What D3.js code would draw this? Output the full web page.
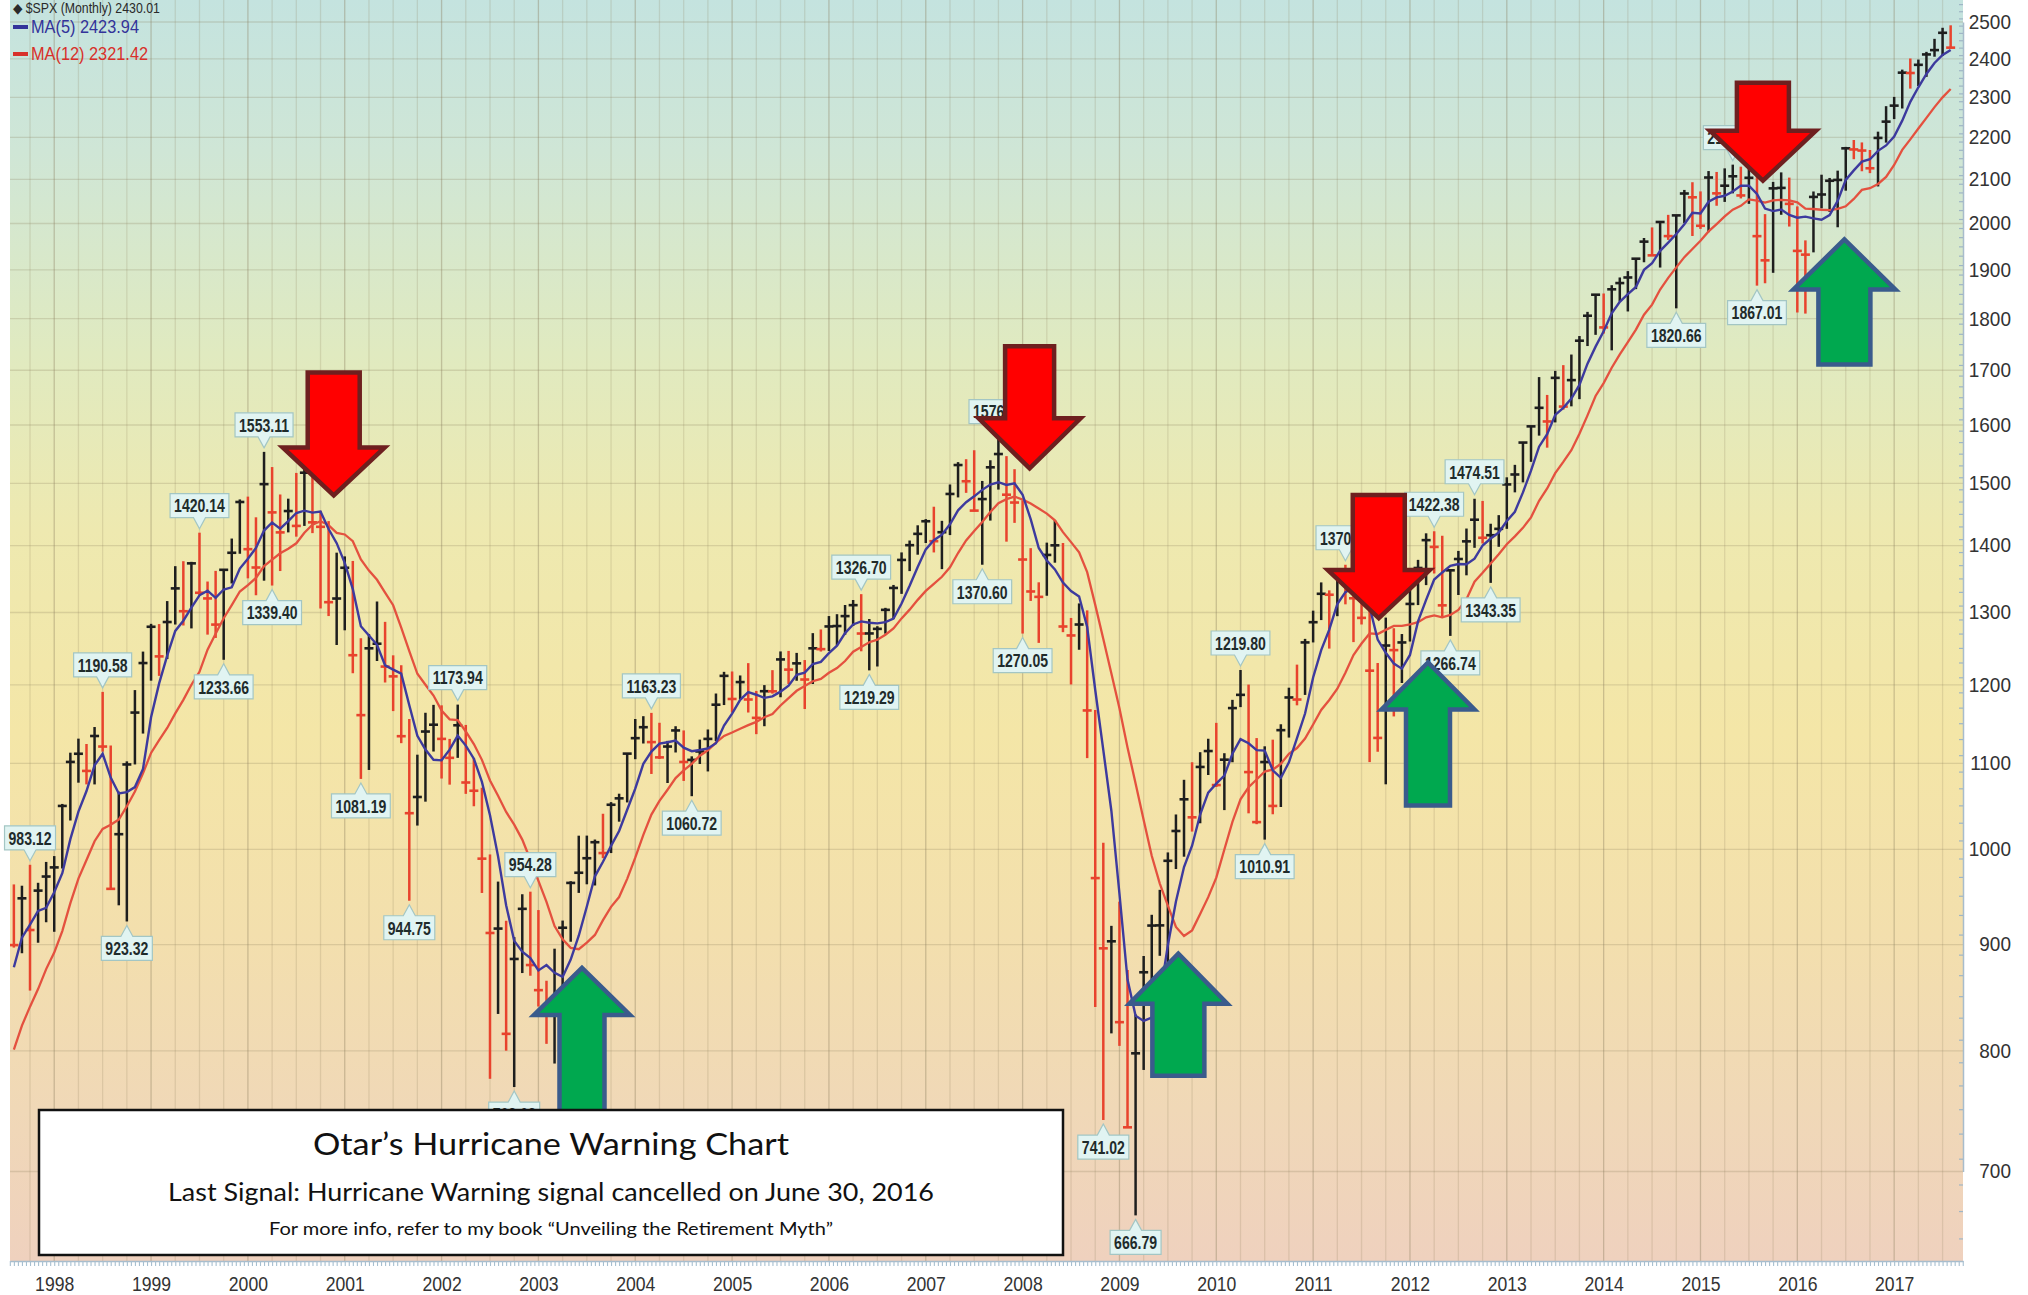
<!DOCTYPE html>
<html>
<head>
<meta charset="utf-8">
<script src="https://cdn.jsdelivr.net/npm/d3@7"></script>
<style>
  html, body { margin: 0; padding: 0; background: #ffffff; }
  svg { display: block; }
</style>
</head>
<body>
<svg id="chart" width="2028" height="1295"></svg>
<script>
// ---------------------------------------------------------------
// $SPX monthly bars, Aug 1997 – Aug 2017, with MA(5) and MA(12)
// ---------------------------------------------------------------
const firstMonth = "1997-08";

// Monthly closes Sep 1996 – Jul 1997 (only used to start the moving averages)
const priorCloses = [687.33, 705.27, 757.02, 740.74, 786.16, 790.82, 757.12, 801.34, 848.28, 885.14, 954.31];

const highs = [
  961.99, 960.60, 983.12, 963.72, 986.25,
  992.65, 1051.66, 1113.08, 1130.52, 1123.85, 1145.15, 1190.58, 1121.96, 1066.09, 1102.45, 1192.97, 1244.93,
  1283.79, 1283.47, 1316.55, 1368.46, 1375.98, 1375.03, 1420.14, 1345.36, 1361.33, 1363.22, 1410.95, 1473.41,
  1478.00, 1444.55, 1553.11, 1527.19, 1481.51, 1474.64, 1517.32, 1525.21, 1530.09, 1454.82, 1438.46, 1389.06,
  1383.37, 1376.38, 1263.47, 1269.30, 1315.93, 1286.62, 1239.78, 1226.27, 1155.40, 1110.61, 1163.38, 1173.62,
  1173.00, 1130.20, 1173.94, 1147.84, 1106.59, 1070.74, 994.46, 965.00, 924.02, 907.44, 951.57, 954.28,
  935.05, 864.64, 895.90, 924.24, 965.38, 1015.33, 1015.41, 1011.01, 1040.29, 1053.79, 1063.65, 1112.56,
  1155.38, 1158.98, 1163.23, 1150.57, 1127.74, 1146.18, 1140.84, 1108.60, 1129.30, 1142.05, 1188.46, 1217.33,
  1217.80, 1212.44, 1229.11, 1191.88, 1199.56, 1219.59, 1245.15, 1245.86, 1243.13, 1233.34, 1270.64, 1275.80,
  1294.90, 1297.57, 1310.88, 1318.16, 1326.70, 1290.68, 1280.42, 1306.74, 1340.28, 1389.45, 1407.89, 1431.81,
  1441.61, 1461.57, 1438.89, 1498.02, 1535.56, 1540.56, 1555.90, 1503.89, 1538.74, 1576.09, 1545.79, 1523.57,
  1471.77, 1396.02, 1344.19, 1404.57, 1440.24, 1404.05, 1292.17, 1313.15, 1303.04, 1167.03, 1007.51, 918.85,
  943.85, 875.01, 832.98, 888.70, 930.17, 956.23, 996.68, 1039.47, 1080.15, 1101.36, 1113.69, 1130.38,
  1150.45, 1112.42, 1180.16, 1219.80, 1200.26, 1131.23, 1120.95, 1129.24, 1148.67, 1196.14, 1227.08, 1262.60,
  1302.67, 1344.07, 1332.28, 1364.56, 1370.58, 1345.20, 1356.48, 1307.38, 1229.29, 1292.66, 1277.55, 1269.37,
  1333.47, 1378.04, 1419.15, 1422.38, 1415.32, 1363.46, 1391.74, 1426.68, 1474.51, 1470.96, 1434.27, 1448.00,
  1509.94, 1530.94, 1570.28, 1597.57, 1687.18, 1654.19, 1698.78, 1709.67, 1729.86, 1765.67, 1813.55, 1849.44,
  1850.84, 1867.92, 1883.97, 1897.28, 1924.03, 1968.17, 1991.39, 2005.04, 2019.26, 2018.19, 2075.76, 2093.55,
  2072.36, 2119.59, 2117.52, 2125.92, 2134.72, 2129.87, 2132.82, 2112.66, 2020.86, 2094.32, 2116.48, 2104.27,
  2038.20, 1962.96, 2072.21, 2111.05, 2103.48, 2120.55, 2177.09, 2193.81, 2187.87, 2169.60, 2214.10, 2277.53,
  2300.99, 2371.54, 2400.98, 2398.16, 2418.71, 2453.82, 2484.04, 2490.87
];

const lows = [
  897.00, 891.40, 855.27, 901.83, 922.51,
  912.83, 979.11, 1032.53, 1076.70, 1074.67, 1074.64, 1114.30, 957.28, 939.98, 923.32, 1098.67, 1136.89,
  1205.46, 1211.89, 1234.77, 1282.80, 1281.41, 1277.30, 1325.00, 1268.52, 1263.90, 1233.66, 1342.47, 1387.38,
  1350.14, 1325.07, 1346.62, 1339.40, 1361.09, 1420.60, 1413.89, 1430.83, 1419.44, 1305.79, 1294.90, 1254.07,
  1274.62, 1215.44, 1081.19, 1091.99, 1232.00, 1203.03, 1165.54, 1124.87, 944.75, 1026.76, 1054.31, 1114.51,
  1081.66, 1074.36, 1106.73, 1063.46, 1048.96, 952.92, 775.68, 833.44, 800.20, 768.63, 872.05, 869.45,
  840.34, 806.29, 788.90, 847.85, 902.83, 953.00, 962.10, 960.84, 990.36, 995.97, 1031.20, 1053.41,
  1105.08, 1124.44, 1087.16, 1105.38, 1076.32, 1113.32, 1078.78, 1060.72, 1099.18, 1090.19, 1127.60, 1173.37,
  1163.75, 1180.95, 1163.69, 1136.15, 1146.18, 1188.30, 1183.55, 1201.07, 1205.35, 1168.20, 1201.07, 1245.00,
  1245.74, 1253.61, 1268.42, 1280.74, 1245.34, 1219.29, 1224.54, 1269.87, 1290.93, 1327.10, 1360.98, 1385.93,
  1403.97, 1389.42, 1363.98, 1416.37, 1476.70, 1484.18, 1454.25, 1370.60, 1439.29, 1489.56, 1406.10, 1435.65,
  1270.05, 1316.75, 1256.98, 1324.35, 1373.72, 1272.00, 1200.44, 1247.45, 1106.39, 839.80, 741.02, 815.69,
  804.47, 734.52, 666.79, 783.32, 866.10, 888.86, 869.32, 978.51, 991.97, 1019.95, 1029.38, 1085.89,
  1071.59, 1044.50, 1101.36, 1170.69, 1040.78, 1028.33, 1010.91, 1039.70, 1048.08, 1131.87, 1173.00, 1186.60,
  1257.62, 1289.14, 1249.05, 1294.70, 1311.80, 1258.07, 1282.86, 1101.54, 1114.22, 1074.77, 1158.66, 1202.37,
  1258.86, 1310.73, 1340.03, 1357.38, 1291.98, 1266.74, 1325.41, 1354.65, 1396.56, 1403.28, 1343.35, 1398.11,
  1426.19, 1485.01, 1501.48, 1536.03, 1581.28, 1560.33, 1604.57, 1627.47, 1633.41, 1646.47, 1746.20, 1767.99,
  1770.45, 1737.92, 1834.44, 1814.36, 1859.79, 1915.98, 1930.67, 1904.78, 1964.04, 1820.66, 2001.01, 1972.56,
  1988.12, 1980.90, 2039.69, 2048.38, 2067.93, 2056.32, 2044.02, 1867.01, 1871.91, 1893.70, 2019.39, 1993.26,
  1812.29, 1810.10, 1937.09, 2033.80, 2025.91, 1991.68, 2074.02, 2147.58, 2119.12, 2114.72, 2083.79, 2187.44,
  2245.13, 2271.65, 2322.25, 2328.95, 2352.72, 2405.70, 2407.70, 2428.00
];

const closes = [
  899.47, 947.28, 914.62, 955.40, 970.43,
  980.28, 1049.34, 1101.75, 1111.75, 1090.82, 1133.84, 1120.67, 957.28, 1017.01, 1098.67, 1163.63, 1229.23,
  1279.64, 1238.33, 1286.37, 1335.18, 1301.84, 1372.71, 1328.72, 1320.41, 1282.71, 1362.93, 1388.91, 1469.25,
  1394.46, 1366.42, 1498.58, 1452.43, 1420.60, 1454.60, 1430.83, 1517.68, 1436.51, 1429.40, 1314.95, 1320.28,
  1366.01, 1239.94, 1160.33, 1249.46, 1255.82, 1224.42, 1211.23, 1133.58, 1040.94, 1059.78, 1139.45, 1148.08,
  1130.20, 1106.73, 1147.39, 1076.92, 1067.14, 989.82, 911.62, 916.07, 815.28, 885.76, 936.31, 879.82,
  855.70, 841.15, 848.18, 916.92, 963.59, 974.50, 990.31, 1008.01, 995.97, 1050.71, 1058.20, 1111.92,
  1131.13, 1144.94, 1126.21, 1107.30, 1120.68, 1140.84, 1101.72, 1104.24, 1114.58, 1130.20, 1173.82, 1211.92,
  1181.27, 1203.60, 1180.59, 1156.85, 1191.50, 1191.33, 1234.18, 1220.33, 1228.81, 1207.01, 1249.48, 1248.29,
  1280.08, 1280.66, 1294.83, 1310.61, 1270.09, 1270.20, 1276.66, 1303.82, 1335.85, 1377.94, 1400.63, 1418.30,
  1438.24, 1406.82, 1420.86, 1482.37, 1530.62, 1503.35, 1455.27, 1473.99, 1526.75, 1549.38, 1481.14, 1468.36,
  1378.55, 1330.63, 1322.70, 1385.59, 1400.38, 1280.00, 1267.38, 1282.83, 1166.36, 968.75, 896.24, 903.25,
  825.88, 735.09, 797.87, 872.81, 919.14, 919.32, 987.48, 1020.62, 1057.08, 1036.19, 1095.63, 1115.10,
  1073.87, 1104.49, 1169.43, 1186.69, 1089.41, 1030.71, 1101.60, 1049.33, 1141.20, 1183.26, 1180.55, 1257.64,
  1286.12, 1327.22, 1325.83, 1363.61, 1345.20, 1320.64, 1292.28, 1218.89, 1131.42, 1253.30, 1246.96, 1257.60,
  1312.41, 1365.68, 1408.47, 1397.91, 1310.33, 1362.16, 1379.32, 1406.58, 1440.67, 1412.16, 1416.18, 1426.19,
  1498.11, 1514.68, 1569.19, 1597.57, 1630.74, 1606.28, 1685.73, 1632.97, 1681.55, 1756.54, 1805.81, 1848.36,
  1782.59, 1859.45, 1872.34, 1883.95, 1923.57, 1960.23, 1930.67, 2003.37, 1972.29, 2018.05, 2067.56, 2058.90,
  1994.99, 2104.50, 2067.89, 2085.51, 2107.39, 2063.11, 2103.84, 1972.18, 1920.03, 2079.36, 2080.41, 2043.94,
  1940.24, 1932.23, 2059.74, 2065.30, 2096.95, 2098.86, 2173.60, 2170.95, 2168.27, 2126.15, 2198.81, 2238.83,
  2278.87, 2363.64, 2362.72, 2384.20, 2411.80, 2423.41, 2470.30, 2430.01
];

// Price axis ticks
const yTicks = [700, 800, 900, 1000, 1100, 1200, 1300, 1400, 1500, 1600, 1700, 1800, 1900, 2000, 2100, 2200, 2300, 2400, 2500];

// Swing highs / lows that carry a value tag
const pivotLabels = [
  { month: "1997-10", side: "high" },
  { month: "1998-07", side: "high" },
  { month: "1998-10", side: "low" },
  { month: "1999-07", side: "high" },
  { month: "1999-10", side: "low" },
  { month: "2000-03", side: "high" },
  { month: "2000-04", side: "low" },
  { month: "2001-03", side: "low" },
  { month: "2001-09", side: "low" },
  { month: "2002-03", side: "high" },
  { month: "2002-10", side: "low" },
  { month: "2002-12", side: "high" },
  { month: "2004-03", side: "high" },
  { month: "2004-08", side: "low" },
  { month: "2006-05", side: "high" },
  { month: "2006-06", side: "low" },
  { month: "2007-08", side: "low" },
  { month: "2007-10", side: "high" },
  { month: "2008-01", side: "low" },
  { month: "2008-11", side: "low" },
  { month: "2009-03", side: "low" },
  { month: "2010-04", side: "high" },
  { month: "2010-07", side: "low" },
  { month: "2011-05", side: "high" },
  { month: "2012-04", side: "high" },
  { month: "2012-06", side: "low" },
  { month: "2012-09", side: "high" },
  { month: "2012-11", side: "low" },
  { month: "2014-10", side: "low" },
  { month: "2015-05", side: "high" },
  { month: "2015-08", side: "low" }
];

// Hurricane warning (sell) and all-clear (buy) signals: arrow tip date and price
const warningSignals = [
  { date: "2000-11-20", value: 1480 },
  { date: "2008-01-27", value: 1525 },
  { date: "2011-09-05", value: 1292 },
  { date: "2015-08-23", value: 2097 }
];
const clearSignals = [
  { date: "2003-06-13", value: 877 },
  { date: "2009-08-10", value: 891 },
  { date: "2012-03-08", value: 1230 },
  { date: "2016-06-26", value: 1965 }
];

const chartTitle = "Otar\u2019s Hurricane Warning Chart";
const signalNote = "Last Signal: Hurricane Warning signal cancelled on June 30, 2016";
const bookNote = "For more info, refer to my book \u201CUnveiling the Retirement Myth\u201D";

// ---------------------------------------------------------------
const W = 2028, H = 1295;
const plot = { left: 10, right: 1963, top: 0, bottom: 1261 };
const svg = d3.select("#chart");
const defs = svg.append("defs");

function monthIdx(ym) {
  const [y0, m0] = firstMonth.split("-").map(Number);
  const [yy, mm] = ym.split("-").map(Number);
  return (yy - y0) * 12 + (mm - m0);
}
function dateIdx(s) {
  const parts = s.split("-").map(Number);
  return monthIdx(parts[0] + "-" + String(parts[1]).padStart(2, "0")) + (parts[2] - 1) / 30;
}
const monthDates = d3.range(closes.length).map(i => d3.utcMonth.offset(new Date(Date.UTC(1997, 7, 1)), i));

// Month index -> pixels (uniform bar spacing); price -> pixels (log)
const x = d3.scaleLinear().domain([-0.48, 241.53]).range([plot.left, plot.right]);
const y = d3.scaleLog().domain([700, 2500]).range([1171.5, 22]);

// ----- background -----
const grad = defs.append("linearGradient").attr("id", "bg").attr("x1", 0).attr("x2", 0).attr("y1", 0).attr("y2", 1);
[[0, "#c4e3df"], [0.12, "#cfe6d6"], [0.28, "#e0eac0"], [0.42, "#eee9b0"], [0.58, "#f4e6a7"],
 [0.74, "#f3dfad"], [0.88, "#f0d8b7"], [1, "#efd1be"]].forEach(([o, c]) =>
  grad.append("stop").attr("offset", o).attr("stop-color", c));

svg.append("rect").attr("width", W).attr("height", H).attr("fill", "#ffffff");
svg.append("rect").attr("x", plot.left).attr("y", plot.top)
  .attr("width", plot.right - plot.left).attr("height", plot.bottom - plot.top)
  .attr("fill", "url(#bg)");

defs.append("clipPath").attr("id", "plotClip").append("rect")
  .attr("x", plot.left).attr("y", plot.top)
  .attr("width", plot.right - plot.left).attr("height", plot.bottom - plot.top);

// ----- grid -----
const grid = svg.append("g").attr("clip-path", "url(#plotClip)");
const quarterIdx = d3.range(closes.length + 2).filter(i => ((7 + i) % 12) % 3 === 0);
grid.selectAll("line.v").data(quarterIdx).join("line")
  .attr("x1", d => x(d)).attr("x2", d => x(d))
  .attr("y1", plot.top).attr("y2", plot.bottom)
  .attr("stroke", "#8a7c5c")
  .attr("stroke-opacity", d => ((7 + d) % 12 === 0 ? 0.38 : 0.2))
  .attr("stroke-width", 1.3);
grid.selectAll("line.h").data(yTicks).join("line")
  .attr("x1", plot.left).attr("x2", plot.right)
  .attr("y1", d => y(d)).attr("y2", d => y(d))
  .attr("stroke", "#8a7c5c").attr("stroke-opacity", 0.24).attr("stroke-width", 1.3);

// ----- price bars -----
const allCloses = priorCloses.concat(closes);
const bars = closes.map((c, i) => ({
  i, high: highs[i], low: lows[i], close: c,
  up: c >= allCloses[i + priorCloses.length - 1]
}));
const barG = svg.append("g").attr("clip-path", "url(#plotClip)");
const barColor = d => d.up ? "#1e1e1e" : "#e8432d";
barG.selectAll("line.hl").data(bars).join("line")
  .attr("x1", d => x(d.i)).attr("x2", d => x(d.i))
  .attr("y1", d => y(d.high)).attr("y2", d => y(d.low))
  .attr("stroke", barColor).attr("stroke-width", 2.5);
barG.selectAll("line.cl").data(bars).join("line")
  .attr("x1", d => x(d.i) - 4.5).attr("x2", d => x(d.i) + 4.5)
  .attr("y1", d => y(d.close)).attr("y2", d => y(d.close))
  .attr("stroke", barColor).attr("stroke-width", 2.6);

// ----- moving averages -----
function movingAverage(n) {
  return closes.map((_, i) => {
    const k = i + priorCloses.length;
    return { i, v: d3.mean(allCloses.slice(k - n + 1, k + 1)) };
  });
}
const ma5 = movingAverage(5), ma12 = movingAverage(12);
const line = d3.line().x(d => x(d.i)).y(d => y(d.v));
const lineG = svg.append("g").attr("clip-path", "url(#plotClip)");
lineG.append("path").datum(ma12).attr("d", line)
  .attr("fill", "none").attr("stroke", "#e4513f").attr("stroke-width", 2.3);
lineG.append("path").datum(ma5).attr("d", line)
  .attr("fill", "none").attr("stroke", "#3d3a9e").attr("stroke-width", 2.4);

// ----- axes -----
const yAxis = d3.axisRight(y).tickValues(yTicks).tickFormat(d3.format("d")).tickSize(0).tickPadding(0);
const yAxisG = svg.append("g").attr("transform", `translate(${plot.right},0)`).call(yAxis);
yAxisG.select(".domain").attr("stroke", "#a8bccb").attr("stroke-width", 1.5);
yAxisG.selectAll("text")
  .attr("font-family", "'Liberation Sans', Arial, sans-serif").attr("font-size", 20)
  .attr("fill", "#333").attr("text-anchor", "end")
  .attr("x", 48 / 0.95).attr("transform", "scale(0.95,1)");
const minorY = d3.range(650, 2560, 20);
svg.append("g").attr("transform", `translate(${plot.right},0)`)
  .call(d3.axisLeft(y).tickValues(minorY).tickSize(4).tickFormat(""))
  .call(g => g.select(".domain").remove())
  .selectAll("line").attr("stroke", "#9fb6c6").attr("stroke-width", 1.2);

const janIdx = d3.range(closes.length).filter(i => monthDates[i].getUTCMonth() === 0);
const xAxis = d3.axisBottom(x).tickValues(janIdx)
  .tickFormat(i => monthDates[i].getUTCFullYear()).tickSize(0).tickPadding(0);
const xAxisG = svg.append("g").attr("transform", `translate(0,${plot.bottom})`).call(xAxis);
xAxisG.select(".domain").attr("stroke", "#a8bccb").attr("stroke-width", 1.5);
xAxisG.selectAll("text")
  .attr("font-family", "'Liberation Sans', Arial, sans-serif").attr("font-size", 21)
  .attr("fill", "#333").attr("dy", 0).attr("y", 30)
  .attr("transform", "scale(0.84,1)");
svg.append("g").attr("transform", `translate(0,${plot.bottom})`)
  .call(d3.axisBottom(x).tickValues(d3.range(-0.5, 242, 0.5)).tickSize(5).tickFormat(""))
  .call(g => g.select(".domain").remove())
  .selectAll("line").attr("stroke", "#a7bfd0").attr("stroke-width", 1.1);

// ----- value tags on swing highs / lows -----
const tagG = svg.append("g");
const tagSX = 0.74;
pivotLabels.forEach(p => {
  const i = monthIdx(p.month);
  const v = p.side === "high" ? highs[i] : lows[i];
  const dir = p.side === "high" ? -1 : 1;
  const g = tagG.append("g").attr("transform", `translate(${x(i)},${y(v)})`);
  const gap = 4, th = 11, bh = 24, tw = 6;
  const b0 = dir * (gap + th), b1 = dir * (gap + th + bh);
  const t = g.append("text").text(v.toFixed(2))
    .attr("font-family", "'Liberation Sans', Arial, sans-serif").attr("font-size", 19)
    .attr("font-weight", "bold")
    .attr("fill", "#1f2b2b").attr("text-anchor", "middle")
    .attr("transform", `scale(${tagSX},1)`)
    .attr("y", (b0 + b1) / 2 + 6.8);
  const w = t.node().getComputedTextLength() * tagSX + 8;
  g.insert("path", "text")
    .attr("d", `M0,${dir * gap} L${tw},${b0} L${w / 2},${b0} L${w / 2},${b1} L${-w / 2},${b1} L${-w / 2},${b0} L${-tw},${b0} Z`)
    .attr("fill", "#e1f4f2").attr("stroke", "#a3c6c4").attr("stroke-width", 1.2);
});

// ----- signal arrows -----
function arrowPath(hw, hh, sw, sl) {
  // tip at origin, pointing down
  return `M0,0 L${-hw},${-hh} L${-sw},${-hh} L${-sw},${-hh - sl} L${sw},${-hh - sl} L${sw},${-hh} L${hw},${-hh} Z`;
}
const warnShape = [
  { hw: 51, hh: 48, sw: 26, sl: 75 },
  { hw: 51, hh: 50, sw: 24.5, sl: 72 },
  { hw: 51, hh: 48, sw: 26, sl: 75 },
  { hw: 53, hh: 50, sw: 26, sl: 48 }
];
const clearShape = [
  { hw: 48, hh: 47, sw: 22.5, sl: 120 },
  { hw: 49, hh: 50, sw: 26, sl: 72 },
  { hw: 46.5, hh: 47, sw: 22, sl: 96 },
  { hw: 51, hh: 50, sw: 26, sl: 75 }
];
const arrowG = svg.append("g");
warningSignals.forEach((s, k) => {
  const a = warnShape[k];
  arrowG.append("path")
    .attr("transform", `translate(${x(dateIdx(s.date))},${y(s.value)})`)
    .attr("d", arrowPath(a.hw, a.hh, a.sw, a.sl))
    .attr("fill", "#ff0000").attr("stroke", "#6e1f1f").attr("stroke-width", 4.5)
    .attr("stroke-linejoin", "miter");
});
clearSignals.forEach((s, k) => {
  const a = clearShape[k];
  arrowG.append("path")
    .attr("transform", `translate(${x(dateIdx(s.date))},${y(s.value)}) scale(1,-1)`)
    .attr("d", arrowPath(a.hw, a.hh, a.sw, a.sl))
    .attr("fill", "#00a84f").attr("stroke", "#3a5b8c").attr("stroke-width", 4.5)
    .attr("stroke-linejoin", "miter");
});

// ----- legend -----
const lastClose = closes[closes.length - 1];
const legend = svg.append("g");
legend.append("text").attr("x", 13 / 0.88).attr("y", 13)
  .attr("font-family", "'Liberation Sans', Arial, sans-serif").attr("font-size", 14)
  .attr("fill", "#2a2a2a").attr("transform", "scale(0.88,1)")
  .text("\u25C6 $SPX (Monthly) " + lastClose.toFixed(2));
const legendRows = [
  { label: "MA(5) " + ma5[ma5.length - 1].v.toFixed(2), color: "#33339a", yy: 33 },
  { label: "MA(12) " + ma12[ma12.length - 1].v.toFixed(2), color: "#d8302a", yy: 60 }
];
legendRows.forEach(r => {
  legend.append("rect").attr("x", 13).attr("y", r.yy - 8).attr("width", 15).attr("height", 4).attr("fill", r.color);
  legend.append("text").attr("x", 31 / 0.86).attr("y", r.yy)
    .attr("font-family", "'Liberation Sans', Arial, sans-serif").attr("font-size", 19)
    .attr("fill", r.color).attr("transform", "scale(0.86,1)")
    .text(r.label);
});

// ----- note box -----
const box = svg.append("g");
box.append("rect").attr("x", 39).attr("y", 1110).attr("width", 1024).attr("height", 145)
  .attr("fill", "#ffffff").attr("stroke", "#111").attr("stroke-width", 2.5);
const boxFont = "Lato, 'Open Sans', 'Liberation Sans', sans-serif";
const cx = 551;
box.append("text").attr("x", cx).attr("y", 1155).attr("text-anchor", "middle")
  .attr("font-family", boxFont).attr("font-size", 31).attr("fill", "#111")
  .attr("textLength", 476).attr("lengthAdjust", "spacingAndGlyphs").text(chartTitle);
box.append("text").attr("x", cx).attr("y", 1201).attr("text-anchor", "middle")
  .attr("font-family", boxFont).attr("font-size", 25).attr("fill", "#111")
  .attr("textLength", 766).attr("lengthAdjust", "spacingAndGlyphs").text(signalNote);
box.append("text").attr("x", cx).attr("y", 1235).attr("text-anchor", "middle")
  .attr("font-family", boxFont).attr("font-size", 18).attr("fill", "#111")
  .attr("textLength", 564).attr("lengthAdjust", "spacingAndGlyphs").text(bookNote);
</script>
</body>
</html>
